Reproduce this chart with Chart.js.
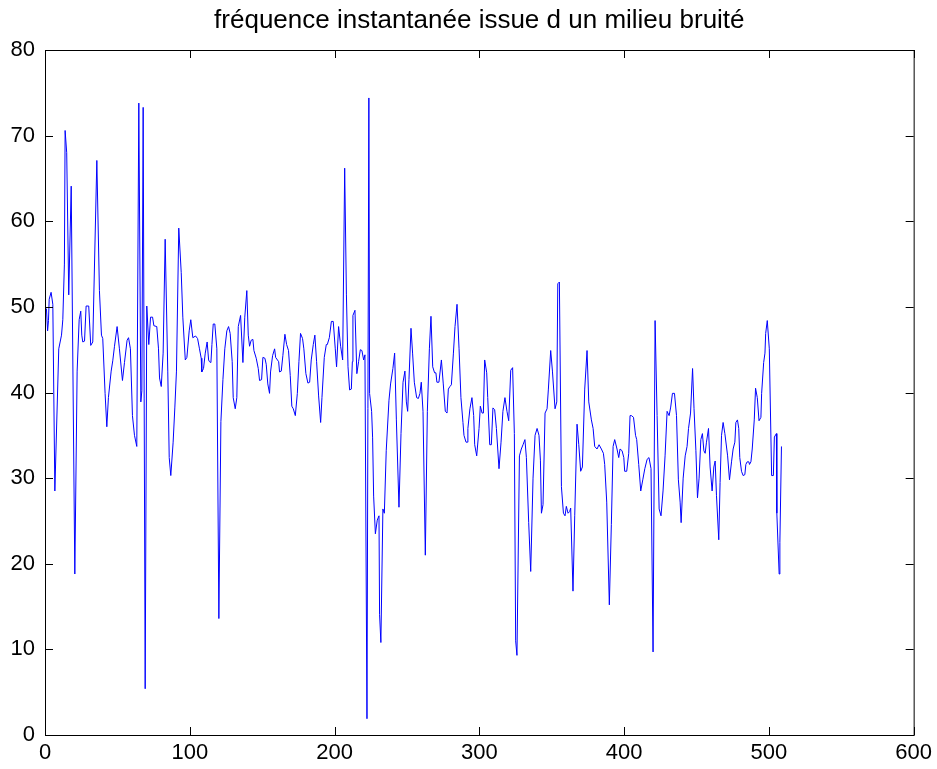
<!DOCTYPE html>
<html>
<head>
<meta charset="utf-8">
<script src="https://cdn.jsdelivr.net/npm/chart.js@4/dist/chart.umd.min.js"></script>
<style>
  html, body { margin: 0; padding: 0; background: #fff; }
  #wrap { width: 937px; height: 769px; }
</style>
</head>
<body>
<div id="wrap"><canvas id="freqChart" width="937" height="769"></canvas></div>
<script>
const chartTitle = 'fréquence instantanée issue d un milieu bruité';
const xTickValues = [0, 100, 200, 300, 400, 500, 600];
const yTickValues = [0, 10, 20, 30, 40, 50, 60, 70, 80];

// sample index (x) and instantaneous frequency (y)
const sampleX = [
  1, 1.8, 2.4, 2.9, 4.2, 5.4, 6.8, 9.5, 11.4, 12.3, 13.4, 13.9, 15, 16.4, 18.1, 20.6, 22.2, 23.6, 24.7, 25.4,
  26.1, 27.3, 28.4, 30.2, 31.6, 33, 35.8, 37.6, 39, 39.9, 41.5, 42.7, 43.8, 45.7, 46.8, 48,
  49.8, 51.4, 53.5, 54.9, 56.7, 57.7, 59, 60.4, 61.8, 63.4, 64.8, 66.2, 66.9, 67.8, 69.2, 70.3, 71.7, 72.9,
  74.3, 75.2, 77.2, 78.4, 79.1, 80.3, 81.6, 83, 84.8, 85.8, 86.9, 88.5, 89.7, 90.8, 92.4, 94.1, 95.2, 96.9, 98, 99.6,
  100.7, 102.1, 104, 105.4, 106.7, 107.9, 108.3, 109.5, 110.7, 112, 113, 113.6, 114.6, 115.3, 116.2, 117.3,
  118.7, 120.1, 121.5, 122.9, 124.2, 125.6, 126.8, 127.9, 129.3, 130, 131.4, 132.5, 133.5, 135.1, 136.7, 138,
  139.4, 140.4, 141.3, 142.4, 143.6, 144.3, 145.9, 147.3, 148.2, 149.6, 150.5, 151.9, 152.8, 153.9, 155.1,
  155.8, 157.2, 158.6, 159.3, 161.4, 162, 163.2, 164.3, 165.7, 166.9, 168.2, 169.4, 170.5, 171.5, 172.9, 174.3,
  175.4, 176.5, 177.9, 178.8, 180.2, 181.6, 182.8, 183.9, 185.3, 186.4, 187.6, 189, 190.4, 191.3, 192.9, 194.3,
  195, 196.4, 197.8, 199.1, 200.5, 201.4, 202.8, 204.2, 205.6,
  207, 208.2, 209.3, 210.4, 211.6, 212.3, 212.7, 214.1, 215.4, 216.6, 217.8, 218.9, 220.1, 221, 222.4, 223.7,
  224.2, 225.6, 226.3, 227, 228.2, 229.5, 230.7, 231.1, 232, 233.4, 234.4, 235.7, 237.6, 238.7, 240.3, 241.5,
  242.7, 244.5, 245.9, 247.3, 248.6, 249.6, 250.5, 251.4, 252.8, 253.9, 255.1,
  256.7, 257.9, 259, 259.9, 261.1, 262.7, 264.1, 265.5, 266.6, 267.8, 269.1, 270, 270.7, 272.1, 273.8, 275.1,
  276.5, 277.7, 278.6, 279.7, 280.7, 282.1, 283.2, 284.6, 286, 287.3, 288.7, 289.4, 290.8, 291.7, 292.1, 293.5,
  294.9, 296.1, 296.8, 298.2, 299.8, 300.7, 301.9, 302.8, 303.7, 305.1, 305.8, 307.2, 308.3,
  309.4, 310.6, 311.8, 313.6, 315, 316.3, 317.7, 319.1, 320.3, 321.7, 323, 324.2, 325.1, 326, 327.7, 329,
  330.2, 331.5, 332.5, 334.1, 335.5, 337.1, 338.5, 339.9, 341.2, 342.2, 342.9, 344, 345.4, 346.8, 347.7, 349.3,
  350.5, 352.3, 353.5, 354.2, 355.3, 356.7, 358.1, 359.2, 360.1, 361.3, 362.4,
  363.1, 364.7, 365.9, 367.5, 368.7, 370, 371.2, 372.8, 374.4, 375.6, 377.4, 378.6, 379.7, 381.3, 382.7, 384.3,
  385.7, 386.6, 388, 389.8, 391.2, 392.4, 393.5, 395.1, 396.3, 397.2, 398.6, 399.8, 400.4, 401.8, 403.2, 404.1,
  405.1, 406.5, 407.9, 408.7, 410.1, 411.5, 412.9, 414.3,
  415.9, 417.2, 418.6, 420, 421.4, 422.8, 424.2, 425.5, 426.9, 428.3, 429.7, 431.1, 432.2, 433.4, 434.8, 436.2,
  437.5, 438.7, 439.4, 440.8, 442.2, 443.5, 444.5, 445.9, 447.3, 448.3, 449.6, 450.7, 451.8, 453, 454.1, 455.1,
  456, 456.9, 458.3, 459.4, 460.8, 462, 462.9,
  463.8, 465.4, 466.3, 467.3, 468.4, 469.6, 471.5, 472.8, 474.2, 475.3, 476.5, 477.2, 478.3, 479.2, 479.9, 481.1,
  482.2, 483.4, 484.1, 485, 486.2, 486.6, 487.6, 488.5, 489.9, 490.8, 492, 493.2, 494.5, 495, 496.4, 497.3,
  497.8, 498.9, 500.3, 501.9, 503.1, 503.8, 505.2, 505.5, 507.1, 507.6, 508.7
];

const freqY = [
  49.8, 47.2, 48.4, 50.9, 51.7, 50.3, 28.5, 45.1, 46.7, 48.5, 55, 70.6, 68, 51.4, 64.1, 18.8, 42.5, 48.5, 49.5, 46.7,
  45.9, 46, 50.1, 50.1, 45.5, 45.9, 67.1, 51.9, 46.7, 46.3, 39.9, 36, 39.4, 42.5, 43.7, 45.4,
  47.7, 45.1, 41.4, 43.5, 46.1, 46.4, 45.1, 37.3, 35, 33.7, 73.8, 38.9, 40.2, 73.3, 5.4, 50.1, 45.6, 48.8,
  48.8, 47.8, 47.7, 45.1, 41.7, 40.7, 44.6, 57.9, 42.5, 32.4, 30.3, 34.2, 38.3, 42.5, 59.2, 54, 48.8, 43.8, 44.1, 47.2,
  48.5, 46.4, 46.6, 46.3, 45.1, 44, 42.4, 42.8, 44.6, 45.9, 43.8, 43.6, 43.5, 45.6, 48, 48,
  45.1, 13.6, 36.6, 41.5, 45.1, 47.2, 47.7, 46.9, 43.6, 39.4, 38.1, 39.4, 47.7, 49, 43.5, 48.8,
  51.9, 46.7, 45.4, 46.1, 46.2, 44.9, 44, 42.8, 41.4, 41.5, 44.1, 44, 43.3, 41, 39.9,
  42.4, 44.3, 45.1, 44.1, 43.6, 42.4, 42.5, 44.3, 46.8, 45.6, 44.9, 42, 38.4, 38.1, 37.3, 39.9,
  43.6, 46.9, 46.3, 45.1, 42.2, 41.1, 41.2, 43.8, 45.6, 46.7, 43.6, 39.6, 36.5, 39.4, 44.1, 45.6,
  45.6, 46.4, 48.3, 48.3, 45.1, 43, 47.7, 45.4, 43.8,
  66.2, 51.4, 43, 40.3, 40.4, 43.6, 49, 49.6, 42.2, 43.6, 45, 44.9, 43.8, 44.4, 1.9, 74.4,
  39.9, 37.8, 34.7, 27.9, 23.5, 25.1, 25.6, 14.1, 10.8, 26.4, 25.9, 33.2, 39.1, 41, 42.8, 44.6,
  36.8, 26.6, 35.2, 41.2, 42.5, 38.9, 37.8, 41.5, 47.5, 44.6, 41.2,
  39.4, 39.3, 39.9, 41.2, 37.8, 21, 37.8, 45.1, 48.9, 43, 42.3, 42.3, 41.2, 41.2, 43.8, 41,
  37.8, 37.6, 40.4, 40.7, 40.9, 44.6, 47.7, 50.3, 45.1, 39.4, 36.5, 35, 34.2, 34.2, 35.8, 38.1,
  39.4, 37.3, 33.9, 32.6, 35.8, 38.4, 37.6, 37.6, 43.8, 42.3, 39.4, 33.9, 33.9,
  38.2, 38, 35.8, 31.1, 34.2, 37.8, 39.4, 37.8, 36.7, 42.6, 42.9, 35.2, 11, 9.3, 32.6, 33.4,
  33.9, 34.5, 32.4, 24.8, 19.1, 30, 35, 35.8, 35, 32.1, 25.9, 26.9, 37.6, 38.1, 40.4, 44.9,
  42.5, 38.1, 38.9, 52.7, 52.9, 29, 25.9, 25.6, 26.7, 25.9, 26.1,
  26.5, 16.8, 25.6, 36.3, 33.9, 30.8, 31.3, 40.4, 44.9, 38.9, 36.8, 35.8, 33.7, 33.4, 33.9, 33.4,
  32.9, 31.6, 27.2, 15.2, 24.6, 33.7, 34.5, 33.4, 32.4, 33.4, 33.2, 32.4, 30.8, 30.8, 32.9, 37.3,
  37.3, 37.1, 35, 34.5, 31.6, 28.5, 29.8, 31.1,
  32.2, 32.4, 31.1, 9.7, 48.4, 37.3, 26.4, 25.6, 28.5, 32.6, 37.8, 37.3, 38.3, 39.9, 39.9, 37.3,
  29.8, 27.2, 24.8, 30, 32.6, 33.7, 35.8, 37.6, 42.8, 38.1, 33.2, 27.7, 30, 34.5, 35.2, 33.2,
  32.9, 34.2, 35.8, 31.3, 28.5, 31.3, 32,
  28, 22.8, 29.5, 35, 36.5, 35.2, 32.6, 29.8, 31.9, 33.4, 34.2, 36.5, 36.8, 35.8, 32.4, 30.8,
  30.3, 30.4, 31.6, 31.9, 31.9, 31.6, 31.9, 33.4, 36.8, 40.5, 39.4, 36.7, 37.1, 39.9, 43.5, 44.6,
  46.9, 48.4, 45.1, 30.3, 30.3, 34.8, 35.2, 25.9, 18.8, 22.5, 33.7
];

const points = sampleX.map((x, i) => ({ x: x, y: freqY[i] }));

// MATLAB-like frame: box, inward ticks on all four sides, title over the plot area
const matlabFrame = {
  id: 'matlabFrame',
  afterDraw(chart) {
    const ctx = chart.ctx;
    const a = chart.chartArea;
    const xs = chart.scales.x;
    const ys = chart.scales.y;
    const tl = 8;
    ctx.save();
    ctx.strokeStyle = '#000';
    ctx.lineWidth = 1;
    ctx.strokeRect(a.left + 0.5, a.top + 0.5, a.right - a.left, a.bottom - a.top);
    ctx.beginPath();
    xTickValues.forEach(v => {
      const px = Math.round(xs.getPixelForValue(v)) + 0.5;
      ctx.moveTo(px, a.bottom); ctx.lineTo(px, a.bottom - tl);
      ctx.moveTo(px, a.top); ctx.lineTo(px, a.top + tl);
    });
    yTickValues.forEach(v => {
      const py = Math.round(ys.getPixelForValue(v)) + 0.5;
      ctx.moveTo(a.left, py); ctx.lineTo(a.left + tl, py);
      ctx.moveTo(a.right, py); ctx.lineTo(a.right - tl, py);
    });
    ctx.stroke();
    ctx.fillStyle = '#000';
    ctx.font = '26px "Liberation Sans", Arial, sans-serif';
    ctx.textAlign = 'center';
    ctx.textBaseline = 'middle';
    ctx.fillText(chartTitle, (a.left + a.right) / 2, 21);
    ctx.restore();
  }
};

new Chart(document.getElementById('freqChart'), {
  type: 'line',
  data: {
    datasets: [{
      data: points,
      borderColor: '#0000ff',
      borderWidth: 1,
      pointRadius: 0,
      tension: 0,
      fill: false,
    }]
  },
  options: {
    responsive: false,
    animation: false,
    layout: { padding: { top: 50, right: 23, left: 0, bottom: 0 } },
    plugins: {
      legend: { display: false },
      tooltip: { enabled: false },
      title: { display: false },
    },
    scales: {
      x: {
        type: 'linear',
        min: 0,
        max: 600,
        afterBuildTicks: s => { s.ticks = xTickValues.map(v => ({ value: v })); },
        afterFit: s => { s.height = 34; },
        grid: { drawOnChartArea: false, drawTicks: false },
        border: { display: false },
        ticks: {
          color: '#000',
          padding: 5,
          maxRotation: 0,
          autoSkip: false,
          font: { family: '"Liberation Sans", Arial, sans-serif', size: 22 },
        },
      },
      y: {
        min: 0,
        max: 80,
        afterBuildTicks: s => { s.ticks = yTickValues.map(v => ({ value: v })); },
        afterFit: s => { s.width = 45; },
        grid: { drawOnChartArea: false, drawTicks: false },
        border: { display: false },
        ticks: {
          color: '#000',
          padding: 10,
          font: { family: '"Liberation Sans", Arial, sans-serif', size: 22 },
        },
      },
    },
  },
  plugins: [matlabFrame],
});
</script>
</body>
</html>
